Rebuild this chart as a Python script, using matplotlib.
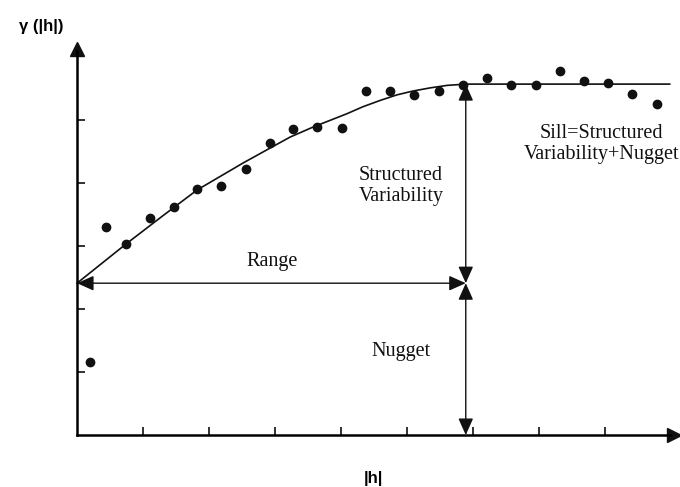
import matplotlib.pyplot as plt

# experimental semivariogram points (lag, gamma)
lag = [0.20, 0.44, 0.74, 1.11, 1.47, 1.82, 2.18, 2.56, 2.92, 3.27, 3.64, 4.02,
       4.38, 4.74, 5.11, 5.48, 5.85, 6.21, 6.58, 6.95, 7.32, 7.68, 8.05, 8.41, 8.79]
gamma = [1.16, 3.30, 3.03, 3.44, 3.62, 3.90, 3.95, 4.22, 4.63, 4.86, 4.89, 4.87,
         5.46, 5.46, 5.40, 5.46, 5.56, 5.67, 5.56, 5.56, 5.78, 5.62, 5.59, 5.41, 5.25]

# fitted model curve
model_lag = [0.0, 0.74, 1.30, 1.82, 2.52, 2.90, 3.23, 3.58, 4.09, 4.33, 4.59,
             4.85, 5.09, 5.35, 5.61, 5.89, 8.98]
model_gamma = [2.41, 3.03, 3.48, 3.89, 4.32, 4.54, 4.73, 4.89, 5.10, 5.21, 5.31,
               5.40, 5.46, 5.51, 5.55, 5.57, 5.57]

nugget = 2.41
sill = 5.57
rng = 5.89
xticks = [1, 2, 3, 4, 5, 6, 7, 8]
yticks = [1, 2, 3, 4, 5]

fig = plt.figure(figsize=(6.8, 4.87), dpi=100)
ax = fig.add_axes([0, 0, 1, 1])
ax.set_xlim(-1.167, 9.136)
ax.set_ylim(-0.825, 6.905)

for side in ["top", "right"]:
    ax.spines[side].set_visible(False)
ax.spines["left"].set_position(("data", 0))
ax.spines["bottom"].set_position(("data", 0))
ax.spines["left"].set_bounds(0, 6.1)
ax.spines["bottom"].set_bounds(0, 9.0)
ax.spines["left"].set_linewidth(1.8)
ax.spines["bottom"].set_linewidth(1.8)
ax.set_xticks(xticks)
ax.set_yticks(yticks)
ax.set_xticklabels([])
ax.set_yticklabels([])
ax.tick_params(direction="in", length=6, width=1.3, color="#222")

# axis arrowheads
ax.plot(0, 6.12, marker="^", markersize=10, color="#111", clip_on=False)
ax.plot(9.05, 0, marker=">", markersize=10, color="#111", clip_on=False)

ax.plot(model_lag, model_gamma, color="#111", lw=1.2)
ax.plot(lag, gamma, "o", color="#111", markersize=6)

arrow = dict(arrowstyle="<|-|>,head_length=0.85,head_width=0.38",
             color="#111", lw=1, mutation_scale=12, shrinkA=0, shrinkB=0)
ax.annotate("", xy=(0, nugget), xytext=(rng, nugget), arrowprops=arrow)
ax.annotate("", xy=(rng, nugget), xytext=(rng, sill), arrowprops=arrow)
ax.annotate("", xy=(rng, 0), xytext=(rng, nugget), arrowprops=arrow)

serif = dict(family="Liberation Serif", fontsize=14.5, color="#111",
             ha="center", va="center", linespacing=1.15)
ax.text(2.95, 2.75, "Range", **serif)
ax.text(4.91, 3.95, "Structured\nVariability", **serif)
ax.text(7.95, 4.62, "Sill=Structured\nVariability+Nugget", **serif)
ax.text(4.91, 1.32, "Nugget", **serif)

fig.text(41 / 680, 1 - 27 / 487, "γ (|h|)", family="Liberation Sans",
         fontweight="bold", fontsize=12, ha="center", va="center")
fig.text(373 / 680, 1 - 478 / 487, "|h|", family="Liberation Sans",
         fontweight="bold", fontsize=12, ha="center", va="center")

fig.savefig("out.png", dpi=100)
